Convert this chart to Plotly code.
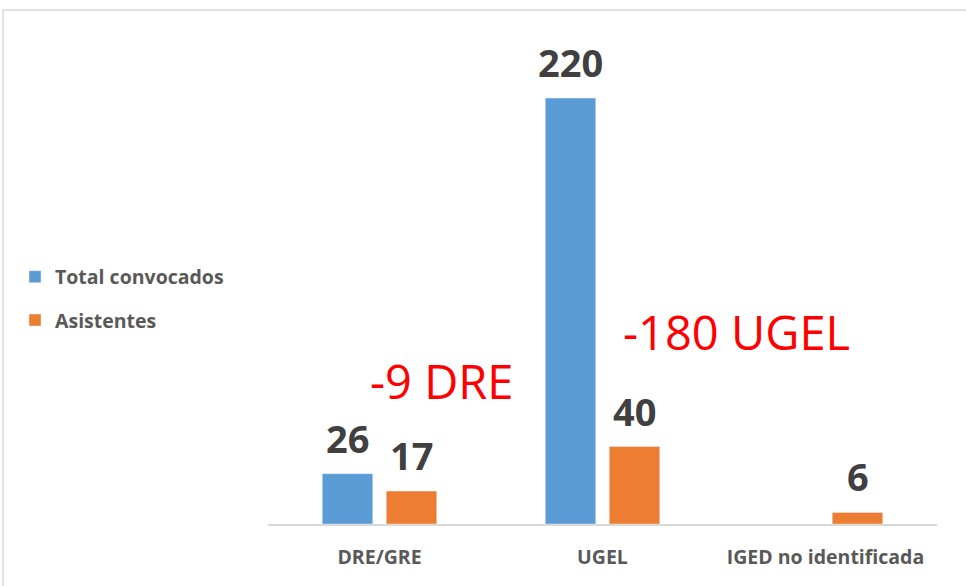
import plotly.graph_objects as go

categories = ["DRE/GRE", "UGEL", "IGED no identificada"]
total_convocados = [26, 220, None]
asistentes = [17, 40, 6]
series_names = ["Total convocados", "Asistentes"]
diff_labels = ["-9 DRE", "-180 UGEL"]

BLUE = "#5B9BD5"
ORANGE = "#ED7D31"
FONT = "Open Sans"

W, H = 966, 586
L, R, T, B = 268, 29, 40, 62
BARGAP = 0.426
BARGROUPGAP = 0.211

fig = go.Figure()
fig.add_trace(go.Bar(x=categories, y=total_convocados, name=series_names[0],
                     marker_color=BLUE, legendgroup="a"))
fig.add_trace(go.Bar(x=categories, y=asistentes, name=series_names[1],
                     marker_color=ORANGE, legendgroup="b"))

plot_w = W - L - R
plot_h = H - T - B
cat_w = plot_w / len(categories)
slot = cat_w * (1 - BARGAP) / 2

def px_x(p):
    return (p - L) / plot_w

def px_y(p):
    return (H - B - p) / plot_h

annotations = []
for vals, sign in ((total_convocados, -1), (asistentes, 1)):
    for c, v in zip(categories, vals):
        if v is None:
            continue
        annotations.append(dict(x=c, y=v, xref="x", yref="y", text=f"<b>{v}</b>",
                                showarrow=False, yanchor="bottom", xanchor="center",
                                xshift=sign * slot / 2, yshift=8,
                                font=dict(family=FONT, size=38, color="#404040")))

annotations.append(dict(x=px_x(441), y=px_y(381), xref="paper", yref="paper",
                        text=diff_labels[0], showarrow=False,
                        xanchor="center", yanchor="middle",
                        font=dict(family=FONT, size=47, color="#FF0000")))
annotations.append(dict(x=px_x(736), y=px_y(332), xref="paper", yref="paper",
                        text=diff_labels[1], showarrow=False,
                        xanchor="center", yanchor="middle",
                        font=dict(family=FONT, size=47, color="#FF0000")))

fig.update_layout(
    width=W, height=H,
    margin=dict(l=L, r=R, t=T, b=B),
    paper_bgcolor="white", plot_bgcolor="white",
    barmode="group", bargap=BARGAP, bargroupgap=BARGROUPGAP,
    showlegend=True,
    legend=dict(x=px_x(15), y=px_y(257.5), xanchor="left", yanchor="top",
                traceorder="grouped", tracegroupgap=15,
                font=dict(family=FONT, size=19.5, color="#595959"),
                bgcolor="rgba(0,0,0,0)"),
    annotations=annotations,
    shapes=[dict(type="rect", xref="paper", yref="paper",
                 x0=px_x(3), x1=px_x(975), y0=px_y(600), y1=px_y(10),
                 line=dict(color="#D9D9D9", width=1.5), fillcolor="rgba(0,0,0,0)",
                 layer="below")],
    font=dict(family=FONT),
)
fig.update_xaxes(showline=True, linecolor="#D9D9D9", linewidth=2,
                 ticks="outside", ticklen=15, tickcolor="rgba(0,0,0,0)",
                 tickvals=categories, ticktext=[f"<b>{c}</b>" for c in categories],
                 tickfont=dict(family=FONT, size=19.5, color="#595959"),
                 showgrid=False, zeroline=False)
fig.update_yaxes(range=[0, 250], visible=False, showgrid=False, zeroline=False)
fig.for_each_trace(lambda t: t.update(name=f"<b>{t.name}</b>"))

fig.write_html("out.html", config={"displayModeBar": False},
               post_script="document.body.style.margin='0';document.body.style.overflow='hidden';")
